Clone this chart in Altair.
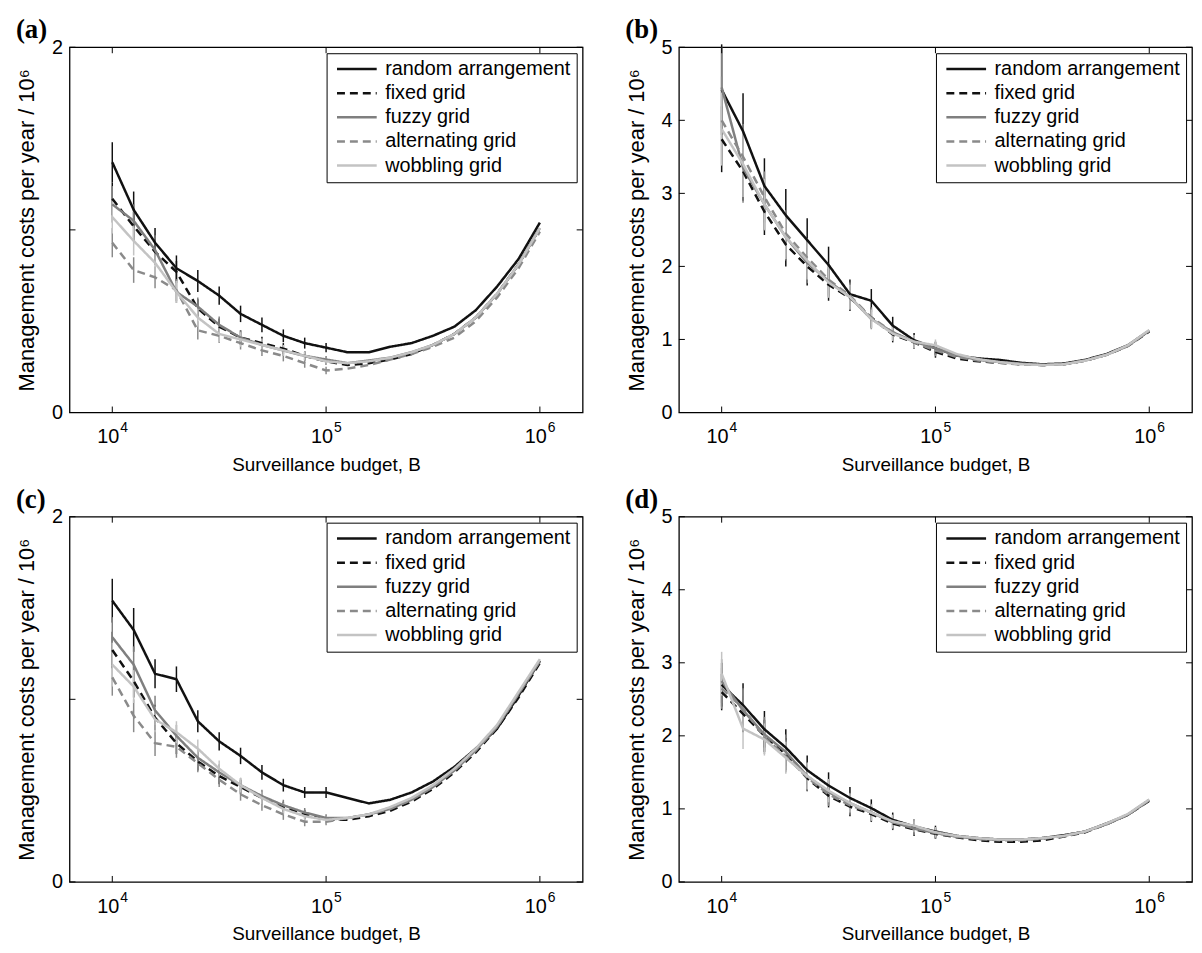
import altair as alt
import pandas as pd

SERIES = ["random arrangement", "fixed grid", "fuzzy grid", "alternating grid", "wobbling grid"]
COLORS = ["#111111", "#111111", "#7f7f7f", "#8a8a8a", "#c3c3c3"]
DASHES = [[1, 0], [8, 5], [1, 0], [8, 5], [1, 0]]

BUDGET = [10000, 12589, 15849, 19953, 25119, 31623, 39811, 50119, 63096, 79433, 100000,
          125893, 158489, 199526, 251189, 316228, 398107, 501187, 630957, 794328, 1000000]
X_DOMAIN = [6310, 1584893]
X_TICKS = [10000, 100000, 1000000]
X_TICK_BASE = ["10", "10", "10"]
X_TICK_EXP = ["4", "5", "6"]

# ---- panel (a)
A_RANDOM = [1.37, 1.11, 0.93, 0.79, 0.72, 0.64, 0.54, 0.48, 0.42, 0.38, 0.355, 0.33, 0.33, 0.36, 0.38, 0.42, 0.47, 0.56, 0.69, 0.84, 1.04]
A_FIXED = [1.17, 1.02, 0.88, 0.77, 0.57, 0.47, 0.41, 0.38, 0.35, 0.31, 0.28, 0.26, 0.27, 0.29, 0.32, 0.37, 0.43, 0.52, 0.65, 0.81, 1.01]
A_FUZZY = [1.14, 1.05, 0.89, 0.66, 0.58, 0.48, 0.41, 0.37, 0.34, 0.31, 0.29, 0.27, 0.285, 0.30, 0.33, 0.37, 0.43, 0.52, 0.65, 0.81, 1.01]
A_ALT = [0.93, 0.78, 0.74, 0.67, 0.45, 0.42, 0.38, 0.34, 0.31, 0.27, 0.23, 0.24, 0.26, 0.29, 0.32, 0.36, 0.41, 0.50, 0.63, 0.79, 0.99]
A_WOB = [1.07, 0.94, 0.82, 0.66, 0.52, 0.43, 0.40, 0.37, 0.34, 0.31, 0.28, 0.27, 0.28, 0.30, 0.33, 0.37, 0.43, 0.52, 0.65, 0.81, 1.01]
A_RANDOM_ERR = [0.11, 0.10, 0.08, 0.07, 0.06, 0.05, 0.045, 0.04, 0.035, 0.03, 0.025]
A_FIXED_ERR = [0.09, 0.08, 0.07, 0.06, 0.05, 0.045, 0.04, 0.035, 0.03, 0.025, 0.02]
A_FUZZY_ERR = [0.10, 0.09, 0.08, 0.06, 0.05, 0.045, 0.04, 0.035, 0.03, 0.025, 0.02]
A_ALT_ERR = [0.08, 0.07, 0.06, 0.06, 0.05, 0.04, 0.035, 0.03, 0.03, 0.025, 0.02]
A_WOB_ERR = [0.09, 0.08, 0.07, 0.06, 0.05, 0.045, 0.04, 0.035, 0.03, 0.025, 0.02]

# ---- panel (b)
B_RANDOM = [4.42, 3.85, 3.10, 2.70, 2.36, 2.02, 1.62, 1.53, 1.19, 0.99, 0.88, 0.78, 0.74, 0.72, 0.68, 0.66, 0.67, 0.72, 0.80, 0.92, 1.12]
B_FIXED = [3.74, 3.30, 2.75, 2.30, 2.00, 1.75, 1.57, 1.30, 1.07, 0.96, 0.83, 0.74, 0.70, 0.68, 0.66, 0.65, 0.66, 0.71, 0.79, 0.91, 1.11]
B_FUZZY = [4.45, 3.35, 2.85, 2.40, 2.05, 1.80, 1.58, 1.28, 1.10, 0.97, 0.88, 0.78, 0.72, 0.69, 0.67, 0.65, 0.66, 0.71, 0.79, 0.91, 1.12]
B_ALT = [4.00, 3.50, 2.95, 2.45, 2.12, 1.82, 1.60, 1.30, 1.10, 0.96, 0.85, 0.76, 0.71, 0.68, 0.66, 0.65, 0.66, 0.71, 0.79, 0.92, 1.12]
B_WOB = [3.88, 3.40, 2.85, 2.40, 2.08, 1.78, 1.58, 1.28, 1.08, 0.97, 0.92, 0.80, 0.73, 0.69, 0.66, 0.65, 0.66, 0.71, 0.79, 0.92, 1.13]
B_RANDOM_ERR = [0.62, 0.52, 0.38, 0.36, 0.30, 0.25, 0.20, 0.16, 0.12, 0.10, 0.09]
B_FIXED_ERR = [0.45, 0.40, 0.32, 0.30, 0.26, 0.22, 0.18, 0.14, 0.11, 0.09, 0.08]
B_FUZZY_ERR = [0.55, 0.48, 0.36, 0.32, 0.28, 0.22, 0.18, 0.14, 0.11, 0.09, 0.08]
B_ALT_ERR = [0.60, 0.45, 0.35, 0.32, 0.27, 0.22, 0.18, 0.14, 0.11, 0.09, 0.08]
B_WOB_ERR = [0.50, 0.45, 0.35, 0.30, 0.26, 0.21, 0.17, 0.13, 0.10, 0.09, 0.08]

# ---- panel (c)
C_RANDOM = [1.54, 1.38, 1.14, 1.11, 0.88, 0.77, 0.69, 0.60, 0.53, 0.49, 0.49, 0.46, 0.43, 0.45, 0.49, 0.55, 0.63, 0.73, 0.84, 1.02, 1.21]
C_FIXED = [1.27, 1.10, 0.90, 0.76, 0.66, 0.58, 0.52, 0.46, 0.41, 0.37, 0.34, 0.34, 0.36, 0.39, 0.44, 0.51, 0.60, 0.71, 0.84, 1.01, 1.20]
C_FUZZY = [1.34, 1.19, 0.94, 0.80, 0.68, 0.60, 0.53, 0.47, 0.42, 0.38, 0.35, 0.35, 0.37, 0.40, 0.45, 0.52, 0.61, 0.72, 0.85, 1.03, 1.21]
C_ALT = [1.12, 0.91, 0.76, 0.74, 0.65, 0.56, 0.48, 0.42, 0.37, 0.33, 0.33, 0.35, 0.37, 0.40, 0.45, 0.52, 0.61, 0.72, 0.85, 1.03, 1.21]
C_WOB = [1.19, 1.07, 0.89, 0.82, 0.73, 0.62, 0.53, 0.46, 0.40, 0.36, 0.34, 0.35, 0.37, 0.41, 0.46, 0.53, 0.62, 0.73, 0.86, 1.04, 1.22]
C_RANDOM_ERR = [0.12, 0.12, 0.08, 0.07, 0.06, 0.05, 0.045, 0.04, 0.035, 0.03, 0.03]
C_FIXED_ERR = [0.10, 0.09, 0.07, 0.06, 0.05, 0.045, 0.04, 0.035, 0.03, 0.025, 0.02]
C_FUZZY_ERR = [0.11, 0.10, 0.08, 0.06, 0.05, 0.045, 0.04, 0.035, 0.03, 0.025, 0.02]
C_ALT_ERR = [0.10, 0.09, 0.07, 0.06, 0.05, 0.04, 0.035, 0.03, 0.03, 0.025, 0.02]
C_WOB_ERR = [0.12, 0.09, 0.07, 0.06, 0.05, 0.045, 0.04, 0.035, 0.03, 0.025, 0.02]

# ---- panel (d)
D_RANDOM = [2.70, 2.42, 2.09, 1.84, 1.53, 1.32, 1.15, 1.01, 0.85, 0.76, 0.69, 0.63, 0.60, 0.58, 0.58, 0.60, 0.64, 0.69, 0.80, 0.92, 1.12]
D_FIXED = [2.60, 2.30, 2.00, 1.75, 1.42, 1.18, 1.03, 0.93, 0.80, 0.72, 0.66, 0.61, 0.57, 0.55, 0.55, 0.57, 0.62, 0.68, 0.79, 0.92, 1.11]
D_FUZZY = [2.75, 2.35, 2.02, 1.78, 1.45, 1.23, 1.08, 0.95, 0.82, 0.73, 0.67, 0.62, 0.59, 0.58, 0.58, 0.60, 0.63, 0.69, 0.79, 0.92, 1.12]
D_ALT = [2.65, 2.38, 1.98, 1.72, 1.43, 1.20, 1.05, 0.95, 0.82, 0.74, 0.67, 0.62, 0.59, 0.57, 0.57, 0.59, 0.63, 0.69, 0.79, 0.92, 1.12]
D_WOB = [2.85, 2.10, 1.95, 1.70, 1.45, 1.25, 1.08, 0.95, 0.83, 0.77, 0.68, 0.63, 0.60, 0.58, 0.58, 0.60, 0.63, 0.69, 0.80, 0.93, 1.13]
D_RANDOM_ERR = [0.30, 0.30, 0.25, 0.25, 0.20, 0.18, 0.15, 0.12, 0.10, 0.10, 0.08]
D_FIXED_ERR = [0.25, 0.25, 0.22, 0.22, 0.18, 0.16, 0.13, 0.11, 0.09, 0.09, 0.07]
D_FUZZY_ERR = [0.30, 0.28, 0.24, 0.24, 0.19, 0.17, 0.14, 0.12, 0.10, 0.09, 0.08]
D_ALT_ERR = [0.28, 0.27, 0.23, 0.22, 0.18, 0.16, 0.13, 0.11, 0.09, 0.09, 0.07]
D_WOB_ERR = [0.30, 0.28, 0.22, 0.22, 0.18, 0.16, 0.13, 0.11, 0.09, 0.09, 0.07]

Y_TICKS_SMALL = [0, 1, 2]
Y_TICKS_LARGE = [0, 1, 2, 3, 4, 5]

W = 517
H = 368
FONT = "Liberation Sans"


def panel(label, values, errs, ymax, yticks):
    rows, erows = [], []
    for s, vals, ev in zip(SERIES, values, errs):
        for b, v in zip(BUDGET, vals):
            rows.append({"budget": b, "cost": v, "series": s})
        for b, v, e in zip(BUDGET, vals, ev):
            erows.append({"budget": b, "lo": v - e, "hi": v + e, "series": s})
    df = pd.DataFrame(rows)
    edf = pd.DataFrame(erows)

    xscale = alt.Scale(type="log", domain=X_DOMAIN)
    yscale = alt.Scale(domain=[0, ymax])
    xenc = alt.X("budget:Q", scale=xscale,
                 axis=alt.Axis(values=X_TICKS, labels=False,
                               title="Surveillance budget, B", ticks=False, domain=False,
                               grid=False, titlePadding=43, titleFontSize=19))
    yenc = alt.Y("cost:Q", scale=yscale,
                 axis=alt.Axis(values=yticks, format="d",
                               title="Management costs per year / 10⁶", ticks=False,
                               domain=False, grid=False, labelPadding=7, titlePadding=13,
                               titleFontSize=22, minExtent=18, maxExtent=18))
    legend = alt.Legend(title=None)
    color = alt.Color("series:N", scale=alt.Scale(domain=SERIES, range=COLORS), legend=legend)
    dash = alt.StrokeDash("series:N", scale=alt.Scale(domain=SERIES, range=DASHES), legend=legend)

    lines = alt.Chart(df).mark_line(strokeWidth=2.5, clip=True).encode(
        x=xenc, y=yenc, color=color, strokeDash=dash,
        order=alt.Order("budget:Q"))
    bars = alt.Chart(edf).mark_rule(strokeWidth=1.5).encode(
        x=alt.X("budget:Q", scale=xscale),
        y=alt.Y("lo:Q", scale=yscale),
        y2="hi:Q",
        color=alt.Color("series:N", scale=alt.Scale(domain=SERIES, range=COLORS), legend=legend))

    xt = pd.DataFrame({"budget": X_TICKS, "base": X_TICK_BASE, "exp": X_TICK_EXP})
    yt = pd.DataFrame({"cost": yticks})
    tb = alt.Chart(xt).mark_rule(color="black", strokeWidth=1).encode(
        x=alt.X("budget:Q", scale=xscale), y=alt.value(H), y2=alt.value(H - 6))
    tt = alt.Chart(xt).mark_rule(color="black", strokeWidth=1).encode(
        x=alt.X("budget:Q", scale=xscale), y=alt.value(0), y2=alt.value(6))
    tl = alt.Chart(yt).mark_rule(color="black", strokeWidth=1).encode(
        y=alt.Y("cost:Q", scale=yscale), x=alt.value(0), x2=alt.value(6))
    tr = alt.Chart(yt).mark_rule(color="black", strokeWidth=1).encode(
        y=alt.Y("cost:Q", scale=yscale), x=alt.value(W), x2=alt.value(W - 6))
    lab_base = alt.Chart(xt).mark_text(font=FONT, fontSize=20, color="black", align="right",
                                       baseline="top", dx=7).encode(
        x=alt.X("budget:Q", scale=xscale), y=alt.value(H + 15), text="base:N")
    lab_exp = alt.Chart(xt).mark_text(font=FONT, fontSize=14, color="black", align="left",
                                      baseline="top", dx=8).encode(
        x=alt.X("budget:Q", scale=xscale), y=alt.value(H + 9), text="exp:N")

    return alt.layer(bars, lines, tb, tt, tl, tr, lab_base, lab_exp).properties(
        width=W, height=H,
        title=alt.TitleParams(label, anchor="start", frame="bounds", font="Liberation Serif",
                              fontSize=27, fontWeight="bold", color="black", offset=-7))


pa = panel("(a)", [A_RANDOM, A_FIXED, A_FUZZY, A_ALT, A_WOB],
           [A_RANDOM_ERR, A_FIXED_ERR, A_FUZZY_ERR, A_ALT_ERR, A_WOB_ERR], 2, Y_TICKS_SMALL)
pb = panel("(b)", [B_RANDOM, B_FIXED, B_FUZZY, B_ALT, B_WOB],
           [B_RANDOM_ERR, B_FIXED_ERR, B_FUZZY_ERR, B_ALT_ERR, B_WOB_ERR], 5, Y_TICKS_LARGE)
pc = panel("(c)", [C_RANDOM, C_FIXED, C_FUZZY, C_ALT, C_WOB],
           [C_RANDOM_ERR, C_FIXED_ERR, C_FUZZY_ERR, C_ALT_ERR, C_WOB_ERR], 2, Y_TICKS_SMALL)
pd_ = panel("(d)", [D_RANDOM, D_FIXED, D_FUZZY, D_ALT, D_WOB],
            [D_RANDOM_ERR, D_FIXED_ERR, D_FUZZY_ERR, D_ALT_ERR, D_WOB_ERR], 5, Y_TICKS_LARGE)

top = alt.hconcat(pa, pb, spacing=40).resolve_scale(color="independent", strokeDash="independent").resolve_legend(color="independent", strokeDash="independent")
bot = alt.hconcat(pc, pd_, spacing=40).resolve_scale(color="independent", strokeDash="independent").resolve_legend(color="independent", strokeDash="independent")

chart = alt.vconcat(top, bot, spacing=10).resolve_scale(
    color="independent", strokeDash="independent").resolve_legend(
    color="independent", strokeDash="independent").properties(
    padding={"left": 7, "top": 4, "right": 0, "bottom": 0}
).configure_view(stroke="black", strokeWidth=1.3).configure_axis(
    labelFont=FONT, labelFontSize=20, labelColor="black",
    titleFont=FONT, titleFontSize=20, titleFontWeight="normal", titleColor="black"
).configure_legend(
    orient="top-right", offset=6, symbolType="stroke", symbolSize=1600,
    symbolStrokeWidth=2.5, symbolOffset=3, labelOffset=7, labelFontSize=20,
    labelFont=FONT, labelColor="black", clipHeight=20, rowPadding=4.3, padding=6,
    fillColor="white", strokeColor="black", labelLimit=400
)

chart.save("out.html", embed_options={"renderer": "svg", "actions": False})
